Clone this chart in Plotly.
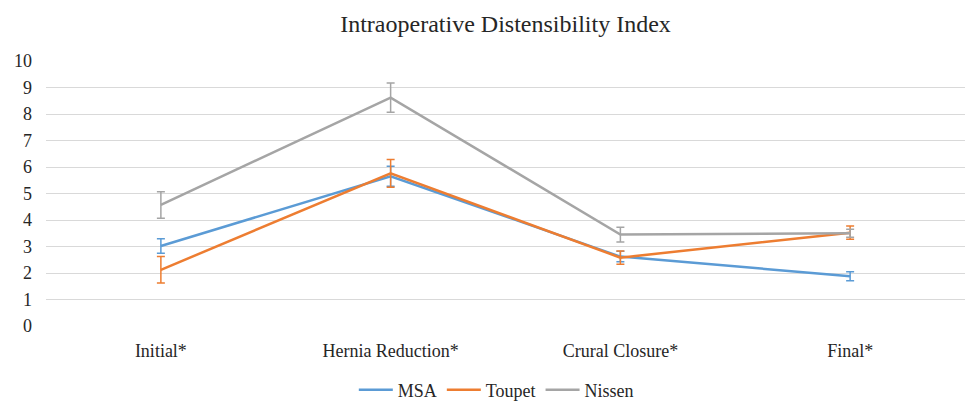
import plotly.graph_objects as go

categories = ["Initial*", "Hernia Reduction*", "Crural Closure*", "Final*"]
msa = [3.02, 5.65, 2.62, 1.88]
msa_err = [0.27, 0.38, 0.2, 0.17]
toupet = [2.12, 5.76, 2.58, 3.52]
toupet_err = [0.5, 0.52, 0.25, 0.25]
nissen = [4.57, 8.62, 3.45, 3.5]
nissen_err = [0.5, 0.55, 0.28, 0.15]
y_ticks = list(range(0, 11))

series = [
    ("MSA", msa, msa_err, "#5B9BD5"),
    ("Toupet", toupet, toupet_err, "#ED7D31"),
    ("Nissen", nissen, nissen_err, "#A5A5A5"),
]

fig = go.Figure()
for name, vals, errs, color in series:
    fig.add_trace(go.Scatter(
        x=categories, y=vals, name=name, mode="lines",
        line=dict(color=color, width=2.5),
        error_y=dict(type="data", array=errs, visible=True, color=color,
                     thickness=1.5, width=4),
    ))

font = "Liberation Serif, Times New Roman, serif"
fig.update_layout(
    width=966, height=402,
    margin=dict(l=46, r=1, t=61, b=76, autoexpand=False),
    paper_bgcolor="white", plot_bgcolor="white",
    font=dict(family=font, size=18, color="#262626"),
    title=dict(text="Intraoperative Distensibility Index", x=0.5, xanchor="center",
               xref="paper", y=1 - 24 / 402, yanchor="middle",
               font=dict(family=font, size=24, color="#262626")),
    xaxis=dict(type="category", range=[-0.5, 3.5], showgrid=False, showline=False,
               zeroline=False, ticks="", automargin=False, ticklabelstandoff=12,
               tickfont=dict(family=font, size=18, color="#262626")),
    yaxis=dict(range=[0, 10], tickvals=y_ticks, showgrid=True, gridcolor="#D9D9D9",
               gridwidth=1, zeroline=False, showline=False, ticks="", automargin=False,
               ticklabelstandoff=13,
               tickfont=dict(family=font, size=18, color="#262626")),
    legend=dict(orientation="h", x=0.49, xanchor="center", xref="paper",
                yref="container", y=12 / 402, yanchor="middle",
                itemwidth=34,
                font=dict(family=font, size=18, color="#262626")),
    showlegend=True,
)

fig.write_html("out.html", config={"displayModeBar": False},
               post_script="document.body.style.margin='0';")
